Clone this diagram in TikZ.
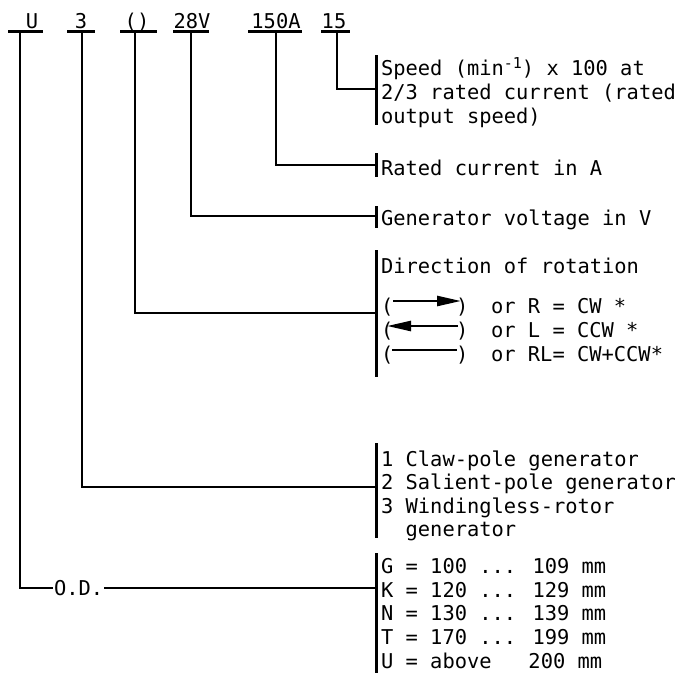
\documentclass[tikz,border=0pt]{standalone}
\usepackage{fontspec}
\usetikzlibrary{arrows.meta}
\newfontfamily\lbl{DejaVu Sans Mono}
\begin{document}
\begin{tikzpicture}[x=1pt,y=-1pt,line width=2.2pt,
  txt/.style={font=\lbl\fontsize{20.4}{23}\selectfont,inner sep=0pt,anchor=base west},
  toplbl/.style={txt,anchor=base},
  topbar/.style={line width=3pt},
  brk/.style={line width=3pt},
  dirarrow/.style={line width=2.5pt,-{Triangle[length=24pt,width=10pt]}},
  dirline/.style={line width=2.5pt}]
\useasboundingbox[fill=white] (0,0) rectangle (682,675);

% top code letters
\node[toplbl] (lU) at (32,28) {U};
\node[toplbl] (l3) at (81,28) {3};
\node[toplbl] (lP) at (137,28) {()};
\node[toplbl] (lV) at (192,28) {28V};
\node[toplbl] (lA) at (276,28) {150A};
\node[toplbl] (l15) at (334,28) {15};
\draw[topbar] (8,31) -- (43,31);
\draw[topbar] (67,31) -- (95,31);
\draw[topbar] (120,31) -- (157,31);
\draw[topbar] (173,31) -- (209,31);
\draw[topbar] (248,31) -- (302,31);
\draw[topbar] (321,31) -- (350,31);
\coordinate (tU) at (20,31);
\coordinate (t3) at (82,31);
\coordinate (tP) at (135,31);
\coordinate (tV) at (191,31);
\coordinate (tA) at (276,31);
\coordinate (t15) at (337,31);

% right brackets
\coordinate (bS) at (376,89);
\coordinate (bA) at (376,165);
\coordinate (bV) at (376,216);
\coordinate (bP) at (376,313);
\coordinate (b3) at (376,487);
\coordinate (bU) at (376,588);
\draw[brk] (376,55) -- (376,125);
\draw[brk] (376,153) -- (376,177);
\draw[brk] (376,206) -- (376,228);
\draw[brk] (376,250) -- (376,377);
\draw[brk] (376,443) -- (376,538);
\draw[brk] (376,553) -- (376,673);

% connectors
\draw (t15) |- (bS);
\draw (tA) |- (bA);
\draw (tV) |- (bV);
\draw (tP) |- (bP);
\draw (t3) |- (b3);
\node[txt,anchor=west] (od) at (53,588) {O.D.};
\draw (tU) |- (od.west);
\draw (od.east) -- (bU);

% texts
\node[txt] (s1) at (380,75) {Speed (min\raisebox{7pt}{\fontsize{15}{15}\selectfont -1}) x 100 at};
\node[txt] (s2) at (380,99) {2/3 rated current (rated};
\node[txt] (s3) at (380,123) {output speed)};
\node[txt] (ra) at (380,175) {Rated current in A};
\node[txt] (gv) at (380,225) {Generator voltage in V};
\node[txt] (dr) at (380,273) {Direction of rotation};

\node[txt] (po1) at (380,313) {(};
\node[txt] (pc1) at (455,313) {)};
\node[txt] (r1) at (490,313) {or R = CW *};
\draw[dirarrow] (393,301) -- (461,301);
\node[txt] (po2) at (380,337) {(};
\node[txt] (pc2) at (455,337) {)};
\node[txt] (r2) at (490,337) {or L = CCW *};
\draw[dirarrow] (458,326) -- (387,326);
\node[txt] (po3) at (380,361) {(};
\node[txt] (pc3) at (455,361) {)};
\node[txt] (r3) at (490,361) {or RL= CW+CCW*};
\draw[dirline] (392,350) -- (457,350);

\node[txt] (c1) at (380,466) {1 Claw-pole generator};
\node[txt] (c2) at (380,489.5) {2 Salient-pole generator};
\node[txt] (c3) at (380,513) {3 Windingless-rotor};
\node[txt] (c4) at (380,536) {\phantom{3}~generator};

\node[txt] (g1) at (380,573) {G = 100 ... 109 mm};
\node[txt] (g2) at (380,597) {K = 120 ... 129 mm};
\node[txt] (g3) at (380,620) {N = 130 ... 139 mm};
\node[txt] (g4) at (380,644) {T = 170 ... 199 mm};
\node[txt] (g5) at (380,668) {U = above~~~200 mm};
\end{tikzpicture}
\end{document}
